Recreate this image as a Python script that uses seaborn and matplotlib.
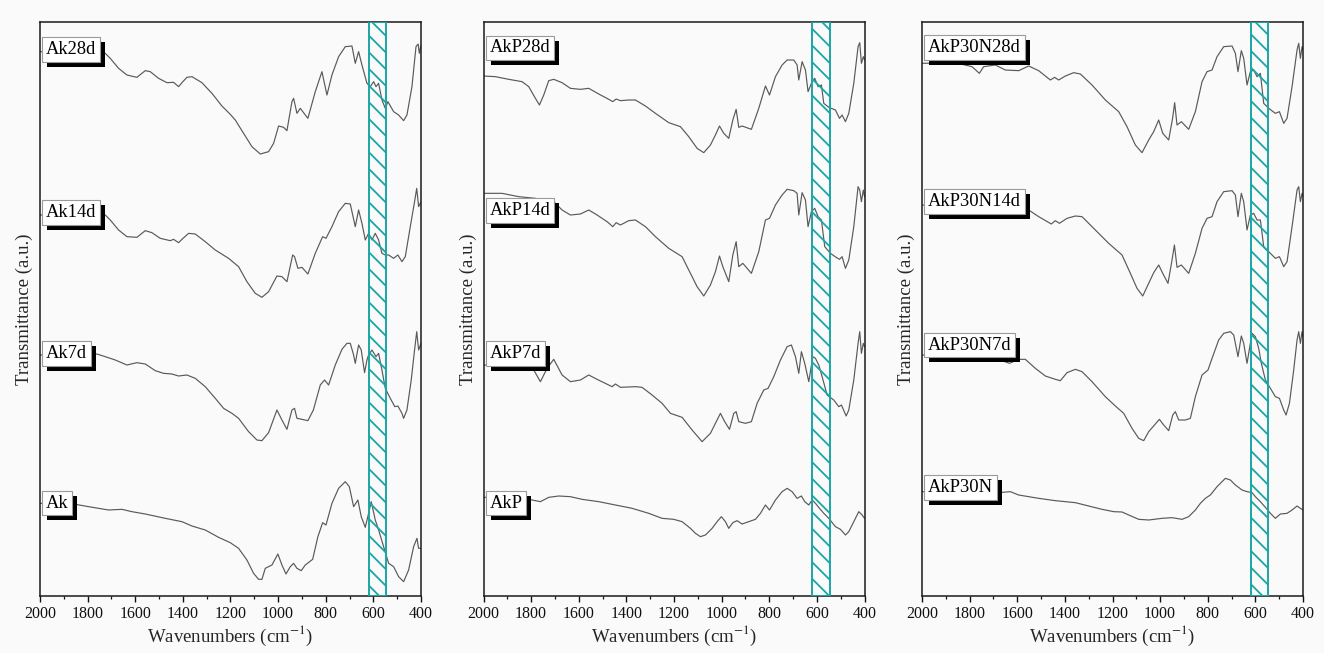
import numpy as np
import pandas as pd
import matplotlib
matplotlib.use("Agg")
import matplotlib.pyplot as plt
import matplotlib.transforms as mtransforms
from matplotlib.patches import Rectangle
from matplotlib.ticker import MultipleLocator
import seaborn as sns

# ---------------- data (wavenumber in cm^-1, transmittance in a.u.) ----------------
wn_Ak28d = [2000, 1800, 1726, 1705, 1670, 1635, 1593, 1558, 1537, 1502, 1467, 1439, 1418, 1404, 1383, 1362, 1320, 1278, 1236, 1201,
            1180, 1145, 1110, 1075, 1040, 1019, 998, 977, 963, 942, 935, 921, 907, 875, 844, 816, 795, 774, 746, 718,
            690, 676, 662, 648, 627, 613, 599, 589, 578, 564, 550, 539, 515, 494, 473, 459, 438, 421, 412, 407, 400]
t_Ak28d = [1705, 1705, 1700, 1685, 1655, 1635, 1628, 1648, 1645, 1625, 1612, 1613, 1600, 1612, 1628, 1630, 1612, 1580, 1542, 1517,
           1500, 1460, 1420, 1398, 1405, 1430, 1482, 1478, 1468, 1555, 1565, 1520, 1535, 1505, 1585, 1645, 1575, 1635, 1690, 1720,
           1722, 1670, 1705, 1665, 1610, 1600, 1615, 1600, 1610, 1560, 1535, 1555, 1525, 1515, 1498, 1515, 1600, 1720, 1728, 1700, 1725]

wn_Ak14d = [2000, 1800, 1726, 1705, 1670, 1635, 1593, 1558, 1530, 1495, 1453, 1439, 1418, 1404, 1376, 1348, 1306, 1264, 1208, 1166,
            1131, 1096, 1068, 1040, 1005, 984, 963, 939, 931, 917, 900, 875, 844, 813, 799, 774, 746, 718, 697, 676,
            662, 648, 634, 620, 606, 592, 578, 564, 550, 536, 515, 497, 480, 466, 445, 427, 418, 410, 400]
t_Ak14d = [1215, 1215, 1215, 1200, 1170, 1150, 1148, 1168, 1162, 1145, 1138, 1142, 1132, 1142, 1160, 1158, 1135, 1110, 1085, 1060,
           1015, 980, 968, 985, 1032, 1030, 1015, 1095, 1090, 1055, 1058, 1038, 1100, 1150, 1145, 1180, 1225, 1250, 1248, 1180,
           1230, 1190, 1140, 1160, 1140, 1160, 1140, 1100, 1095, 1095, 1085, 1095, 1075, 1090, 1180, 1255, 1295, 1240, 1255]

wn_Ak7d = [2000, 1800, 1761, 1726, 1684, 1635, 1593, 1558, 1516, 1481, 1446, 1418, 1383, 1348, 1306, 1264, 1229, 1194, 1166, 1124,
           1089, 1068, 1040, 1005, 984, 963, 942, 931, 921, 900, 875, 852, 823, 805, 788, 760, 732, 711, 697, 683,
           676, 662, 651, 637, 627, 620, 606, 589, 578, 564, 550, 529, 510, 497, 480, 473, 459, 441, 427, 418, 410, 400]
t_Ak7d = [795, 795, 798, 790, 780, 765, 772, 768, 748, 740, 738, 732, 735, 725, 700, 665, 635, 620, 605, 565,
          540, 538, 562, 630, 600, 572, 630, 635, 605, 602, 598, 630, 705, 720, 705, 765, 812, 830, 830, 795,
          770, 825, 810, 742, 780, 795, 810, 790, 800, 750, 695, 665, 640, 642, 620, 605, 630, 720, 810, 865, 810, 830]

wn_Ak = [2000, 1859, 1796, 1712, 1656, 1614, 1558, 1474, 1404, 1362, 1306, 1250, 1201, 1166, 1131, 1103, 1082, 1068, 1054, 1026,
         1001, 984, 967, 949, 935, 921, 903, 886, 855, 833, 813, 799, 774, 746, 718, 701, 683, 665, 651, 634,
         620, 609, 592, 578, 557, 536, 515, 494, 473, 452, 431, 417, 410, 400]
t_Ak = [350, 348, 340, 330, 332, 325, 318, 305, 295, 282, 270, 248, 232, 215, 180, 140, 122, 122, 155, 165,
        198, 165, 138, 160, 170, 155, 148, 165, 182, 250, 292, 285, 350, 395, 415, 400, 340, 360, 310, 278,
        320, 355, 300, 270, 220, 170, 160, 130, 115, 150, 220, 245, 215, 215]

wn_AkP28d = [2000, 1950, 1894, 1838, 1810, 1782, 1765, 1747, 1726, 1705, 1670, 1635, 1593, 1558, 1516, 1474, 1457, 1443, 1425, 1390,
             1362, 1320, 1278, 1222, 1173, 1138, 1103, 1075, 1047, 1026, 1009, 991, 970, 953, 939, 928, 914, 875, 844, 816,
             799, 774, 746, 725, 697, 683, 676, 662, 648, 637, 623, 609, 595, 581, 571, 550, 522, 505, 494, 480,
             466, 445, 427, 420, 413, 405, 400]
t_AkP28d = [1632, 1630, 1622, 1615, 1600, 1565, 1545, 1575, 1618, 1622, 1612, 1595, 1592, 1595, 1578, 1562, 1555, 1563, 1558, 1560,
            1560, 1542, 1520, 1492, 1480, 1450, 1415, 1402, 1425, 1455, 1482, 1460, 1445, 1500, 1532, 1478, 1482, 1472, 1535, 1602,
            1575, 1630, 1665, 1680, 1680, 1665, 1620, 1675, 1650, 1585, 1610, 1625, 1600, 1605, 1550, 1538, 1530, 1505, 1515, 1495,
            1520, 1610, 1720, 1732, 1670, 1690, 1680]

wn_AkP14d = [2000, 1922, 1852, 1782, 1705, 1670, 1635, 1593, 1558, 1523, 1481, 1457, 1443, 1425, 1390, 1362, 1320, 1278, 1222, 1166,
             1138, 1103, 1075, 1047, 1026, 1009, 995, 970, 953, 939, 928, 911, 875, 844, 816, 799, 774, 746, 725, 697,
             683, 676, 662, 648, 637, 623, 609, 595, 581, 567, 543, 519, 505, 494, 480, 466, 445, 427, 420, 413, 405, 400]
t_AkP14d = [1280, 1280, 1270, 1265, 1255, 1230, 1215, 1218, 1230, 1215, 1195, 1180, 1192, 1185, 1198, 1200, 1180, 1150, 1115, 1090,
            1050, 1000, 972, 1005, 1045, 1092, 1060, 1015, 1095, 1135, 1060, 1070, 1040, 1105, 1200, 1205, 1245, 1275, 1292, 1288,
            1280, 1215, 1282, 1260, 1180, 1225, 1235, 1210, 1200, 1120, 1100, 1088, 1082, 1090, 1055, 1080, 1180, 1300, 1290, 1255, 1290, 1270]

wn_AkP7d = [2000, 1866, 1789, 1761, 1733, 1705, 1670, 1635, 1593, 1558, 1523, 1460, 1446, 1425, 1362, 1334, 1292, 1250, 1215, 1166,
            1124, 1082, 1047, 1005, 987, 967, 949, 939, 928, 900, 875, 851, 823, 805, 781, 753, 725, 707, 690, 676,
            665, 651, 634, 617, 606, 592, 578, 557, 529, 508, 497, 477, 466, 445, 427, 420, 413, 405, 400]
t_AkP7d = [765, 765, 750, 715, 755, 782, 735, 715, 720, 735, 722, 700, 708, 698, 700, 698, 675, 650, 620, 608,
           570, 535, 560, 620, 595, 572, 620, 625, 595, 590, 595, 650, 690, 695, 730, 780, 820, 825, 790, 740,
           805, 770, 715, 790, 785, 765, 730, 675, 660, 640, 645, 612, 630, 720, 830, 865, 800, 830, 820]

wn_AkP = [2000, 1866, 1824, 1796, 1761, 1726, 1684, 1635, 1586, 1516, 1446, 1376, 1306, 1250, 1201, 1166, 1131, 1110, 1089, 1068,
          1040, 1019, 1001, 984, 970, 953, 935, 914, 886, 858, 837, 816, 799, 774, 746, 725, 704, 683, 665, 651,
          634, 620, 606, 589, 571, 550, 522, 501, 480, 466, 445, 424, 410, 400]
t_AkP = [368, 368, 365, 360, 355, 368, 372, 370, 362, 355, 345, 335, 320, 305, 302, 295, 275, 260, 250, 255,
         275, 295, 310, 295, 275, 292, 298, 288, 295, 302, 320, 345, 330, 360, 385, 395, 385, 365, 372, 355,
         345, 360, 350, 335, 320, 305, 280, 272, 255, 265, 295, 325, 315, 305]

wn_AkP30N28d = [2000, 1860, 1790, 1759, 1741, 1692, 1650, 1594, 1552, 1510, 1461, 1443, 1426, 1398, 1363, 1335, 1286, 1230, 1174, 1139,
                1104, 1076, 1048, 1027, 1006, 989, 964, 947, 939, 929, 911, 880, 852, 824, 803, 782, 761, 733, 698, 684,
                673, 659, 649, 635, 621, 607, 593, 579, 565, 544, 516, 499, 481, 467, 446, 425, 418, 411, 404, 400]
t_AkP30N28d = [1670, 1672, 1660, 1640, 1660, 1665, 1650, 1648, 1662, 1648, 1620, 1628, 1620, 1632, 1642, 1638, 1605, 1560, 1525, 1480,
               1425, 1402, 1440, 1465, 1500, 1460, 1440, 1508, 1552, 1485, 1495, 1472, 1525, 1615, 1645, 1650, 1690, 1720, 1722, 1700,
               1645, 1708, 1685, 1605, 1645, 1650, 1630, 1640, 1550, 1535, 1520, 1525, 1490, 1505, 1600, 1710, 1730, 1685, 1720, 1710]

wn_AkP30N14d = [2000, 1790, 1759, 1734, 1650, 1552, 1510, 1457, 1440, 1423, 1391, 1356, 1328, 1272, 1216, 1160, 1125, 1097, 1073, 1048,
                1027, 1006, 989, 967, 950, 940, 929, 911, 880, 852, 824, 803, 782, 761, 733, 698, 684, 673, 659, 649,
                635, 621, 607, 593, 579, 565, 544, 516, 499, 481, 467, 446, 425, 418, 411, 404, 400]
t_AkP30N14d = [1245, 1235, 1215, 1235, 1230, 1230, 1210, 1188, 1198, 1190, 1205, 1212, 1210, 1170, 1130, 1095, 1040, 995, 972, 1010,
               1042, 1065, 1040, 1010, 1080, 1125, 1058, 1065, 1040, 1100, 1175, 1205, 1210, 1255, 1285, 1288, 1275, 1210, 1280, 1255,
               1170, 1215, 1220, 1200, 1200, 1120, 1105, 1085, 1090, 1060, 1075, 1180, 1290, 1300, 1255, 1280, 1270]

wn_AkP30N7d = [2000, 1790, 1664, 1633, 1594, 1566, 1524, 1482, 1440, 1419, 1391, 1356, 1328, 1286, 1230, 1188, 1153, 1118, 1090, 1069,
               1048, 1003, 985, 964, 947, 936, 922, 894, 873, 852, 824, 799, 782, 754, 733, 705, 691, 673, 659, 649,
               635, 614, 600, 586, 575, 558, 537, 516, 499, 481, 471, 457, 439, 425, 418, 411, 404, 400]
t_AkP30N7d = [795, 790, 778, 770, 782, 782, 755, 732, 722, 718, 742, 752, 745, 715, 670, 642, 620, 575, 545, 538,
              565, 602, 585, 568, 615, 625, 600, 600, 605, 670, 735, 750, 785, 840, 860, 865, 855, 790, 852, 830,
              770, 860, 850, 815, 770, 720, 695, 670, 665, 630, 615, 650, 750, 840, 865, 830, 865, 850]

wn_AkP30N = [2000, 1790, 1678, 1629, 1594, 1510, 1440, 1356, 1300, 1244, 1195, 1160, 1132, 1090, 1048, 992, 950, 908, 880, 852,
             831, 810, 789, 761, 726, 705, 684, 656, 635, 614, 600, 579, 558, 537, 516, 495, 467, 446, 425, 411, 400]
t_AkP30N = [385, 382, 382, 385, 375, 365, 358, 352, 342, 332, 325, 324, 315, 302, 300, 305, 307, 302, 310, 330,
            350, 365, 375, 400, 425, 420, 405, 390, 385, 382, 370, 355, 338, 320, 305, 318, 320, 330, 342, 335, 330]

panel_samples = [["Ak28d", "Ak14d", "Ak7d", "Ak"],
                 ["AkP28d", "AkP14d", "AkP7d", "AkP"],
                 ["AkP30N28d", "AkP30N14d", "AkP30N7d", "AkP30N"]]

spectra = {
    "Ak28d": (wn_Ak28d, t_Ak28d), "Ak14d": (wn_Ak14d, t_Ak14d),
    "Ak7d": (wn_Ak7d, t_Ak7d), "Ak": (wn_Ak, t_Ak),
    "AkP28d": (wn_AkP28d, t_AkP28d), "AkP14d": (wn_AkP14d, t_AkP14d),
    "AkP7d": (wn_AkP7d, t_AkP7d), "AkP": (wn_AkP, t_AkP),
    "AkP30N28d": (wn_AkP30N28d, t_AkP30N28d), "AkP30N14d": (wn_AkP30N14d, t_AkP30N14d),
    "AkP30N7d": (wn_AkP30N7d, t_AkP30N7d), "AkP30N": (wn_AkP30N, t_AkP30N),
}

band_range = (620, 545)   # highlighted band, cm^-1

# ---------------- layout (label anchor heights in a.u.) ----------------
label_y = {"Ak28d": 1712, "Ak14d": 1222, "Ak7d": 800, "Ak": 351,
           "AkP28d": 1716, "AkP14d": 1229, "AkP7d": 799, "AkP": 351,
           "AkP30N28d": 1717, "AkP30N14d": 1255, "AkP30N7d": 825, "AkP30N": 397}

frames = []
for p, names in enumerate(panel_samples):
    for name in names:
        wn, t = spectra[name]
        frames.append(pd.DataFrame({"panel": p, "sample": name,
                                    "wavenumber": wn, "T": t}))
df = pd.concat(frames, ignore_index=True)

sns.set_theme(style="ticks")
plt.rcParams["font.family"] = ["Liberation Serif", "DejaVu Serif"]
plt.rcParams["mathtext.fontset"] = "stix"
plt.rcParams["hatch.linewidth"] = 1.3
plt.rcParams["axes.edgecolor"] = "#1a1a1a"
plt.rcParams["axes.linewidth"] = 1.1

BG = "#fafafa"
W, H = 1324, 653
fig = plt.figure(figsize=(W / 100, H / 100), dpi=100, facecolor=BG)
lefts = [40, 483.5, 922]
teal = "#1aa6a6"

label_texts = []
for p, names in enumerate(panel_samples):
    ax = fig.add_axes([lefts[p] / W, 1 - 596 / H, 381 / W, (596 - 22) / H])
    ax.set_facecolor(BG)
    sub = df[df["panel"] == p]
    sns.lineplot(data=sub, x="wavenumber", y="T", units="sample", estimator=None,
                 sort=False, color="#595959", lw=0.85, ax=ax, legend=False)
    ax.axvspan(band_range[0], band_range[1], facecolor="none", edgecolor=teal,
               hatch="\\\\", lw=1.4, zorder=3)
    ax.set_xlim(2000, 400)
    ax.set_ylim(72, 1794)
    ax.xaxis.set_major_locator(MultipleLocator(200))
    ax.xaxis.set_minor_locator(MultipleLocator(100))
    ax.tick_params(axis="x", which="major", direction="out", length=4.5, width=1.0,
                   labelsize=11.5, colors="#111111", pad=3)
    ax.tick_params(axis="x", which="minor", direction="out", length=2.5, width=0.9,
                   colors="#111111")
    ax.set_yticks([])
    ax.set_xlabel(r"Wavenumbers (cm$^{-1}$)", fontsize=13.5, labelpad=1)
    ax.set_ylabel("Transmittance (a.u.)", fontsize=13.5, labelpad=5)
    for sp in ax.spines.values():
        sp.set_visible(True)

    trans = mtransforms.blended_transform_factory(ax.transAxes, ax.transData)
    for name in names:
        y = label_y[name]
        t = ax.text(0.016, y, name, transform=trans, ha="left", va="center",
                    fontsize=13.3, color="black",
                    bbox=dict(boxstyle="square,pad=0.2", fc="white", ec="#9a9a9a", lw=0.8),
                    zorder=6)
        label_texts.append((ax, t))

# drop shadows behind the label boxes (offset 5 px right / down)
fig.canvas.draw()
for ax, t in label_texts:
    bb = t.get_bbox_patch().get_window_extent()
    shadow = Rectangle((bb.x0 + 5, bb.y0 - 5), bb.width, bb.height,
                       transform=None, facecolor="black", edgecolor="black",
                       lw=0, zorder=5.5)
    ax.add_artist(shadow)

fig.savefig("out.png", dpi=100, facecolor=fig.get_facecolor())
